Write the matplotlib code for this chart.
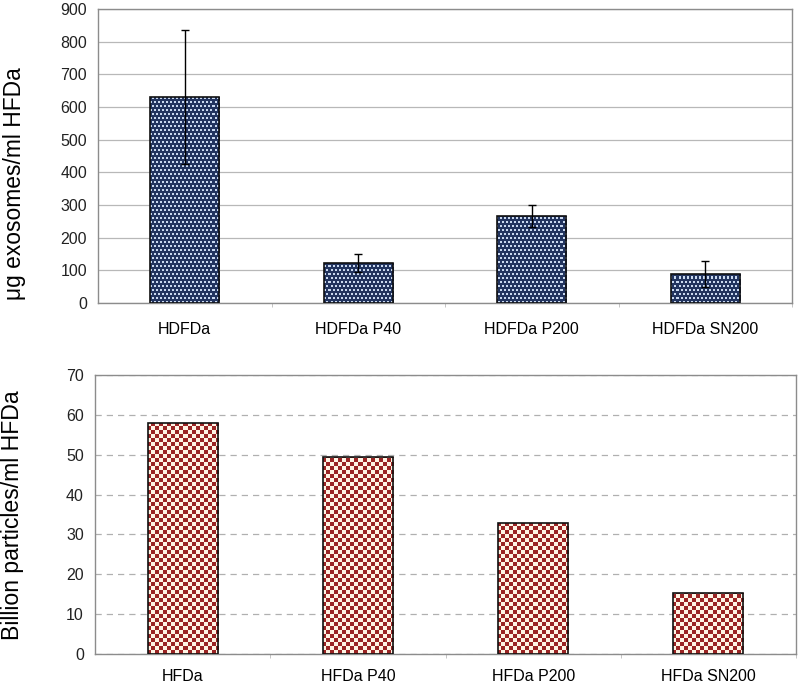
import matplotlib
matplotlib.use("Agg")
import matplotlib.pyplot as plt
from matplotlib.colors import ListedColormap
import numpy as np

plt.rcParams['font.family'] = ['Liberation Sans', 'DejaVu Sans']

# top panel: exosome protein yield
top_labels = ['HDFDa', 'HDFDa P40', 'HDFDa P200', 'HDFDa SN200']
top_values = [630, 122, 266, 90]
top_err = [205, 28, 33, 40]

# bottom panel: particle counts
bot_labels = ['HFDa', 'HFDa P40', 'HFDa P200', 'HFDa SN200']
bot_values = [58, 49.5, 32.9, 15.4]

W, H = 800, 685
fig = plt.figure(figsize=(W / 100, H / 100), dpi=100)

ax1 = fig.add_axes([98 / W, 1 - 303 / H, (792 - 98) / W, (303 - 9) / H])
ax2 = fig.add_axes([95 / W, 1 - 654 / H, (796 - 95) / W, (654 - 375) / H])

grey = '#8c8c8c'


def style_axes(ax, ymax, ystep, dashed, xpad):
    x = np.arange(4)
    ax.set_xlim(-0.5, 3.5)
    ax.set_ylim(0, ymax)
    ax.set_yticks(np.arange(0, ymax + 1, ystep))
    ax.set_xticks(x)
    ax.set_xticks(np.arange(0.5, 4, 1), minor=True)
    ax.tick_params(axis='x', which='major', length=0, pad=xpad, labelsize=11.5)
    ax.tick_params(axis='x', which='minor', length=3, color='#bbbbbb', direction='out')
    ax.tick_params(axis='y', length=0, pad=8, labelsize=11.5, labelcolor='#222222')
    for s in ax.spines.values():
        s.set_color(grey)
        s.set_linewidth(1)
    ax.set_axisbelow(True)
    if dashed:
        ax.yaxis.grid(True, color='#b0b0b0', linestyle=(0, (5, 4)), linewidth=0.9)
    else:
        ax.yaxis.grid(True, color='#b8b8b8', linestyle='-', linewidth=0.9)


def fill_pattern(ax, bars, pattern, cmap):
    ext = (*ax.get_xlim(), *ax.get_ylim())
    for b in bars:
        im = ax.imshow(pattern, extent=ext, cmap=cmap, interpolation='nearest',
                       aspect='auto', origin='lower', zorder=2)
        im.set_clip_path(b)


# ---- top chart
style_axes(ax1, 900, 100, dashed=False, xpad=14)
x = np.arange(len(top_labels))
bars1 = ax1.bar(x, top_values, width=0.4, facecolor='#2a3e70', edgecolor='none', zorder=1)
ax1.bar(x, top_values, width=0.4, facecolor='none', edgecolor='#111111', linewidth=1.2, zorder=3)
ax1.errorbar(x, top_values, yerr=top_err, fmt='none', ecolor='black', elinewidth=1,
             capsize=3, capthick=1, zorder=4)
ax1.set_xticklabels(top_labels)

# staggered dot texture for top bars (pixel resolution of the axes)
nx, ny = 694, 294
yy, xx = np.mgrid[0:ny, 0:nx]
off = ((yy // 4) % 2) * 2
dots = (((xx + off) % 4) < 2) & ((yy % 4) < 2)
fill_pattern(ax1, bars1, dots.astype(float), ListedColormap(['#22345f', '#c9d8ef']))

fig.text(15 / W, 1 - 184 / H, 'μg exosomes/ml HFDa', rotation=90, ha='center', va='center',
         fontsize=16.4)

# ---- bottom chart
style_axes(ax2, 70, 10, dashed=True, xpad=11)
x2 = np.arange(len(bot_labels))
bars2 = ax2.bar(x2, bot_values, width=0.4, facecolor='#9a2424', edgecolor='none', zorder=1)
ax2.bar(x2, bot_values, width=0.4, facecolor='none', edgecolor='#111111', linewidth=1.2, zorder=3)
ax2.set_xticklabels(bot_labels)

cx, cy = 701 // 4 + 1, 279 // 4 + 1
checker = np.add.outer(np.arange(cy), np.arange(cx)) % 2
fill_pattern(ax2, bars2, checker.astype(float), ListedColormap(['#fff4e4', '#9a2424']))

fig.text(13 / W, 1 - 515 / H, 'Billion particles/ml HFDa', rotation=90, ha='center',
         va='center', fontsize=16.6)

fig.savefig('out.png', dpi=100, facecolor='white')
